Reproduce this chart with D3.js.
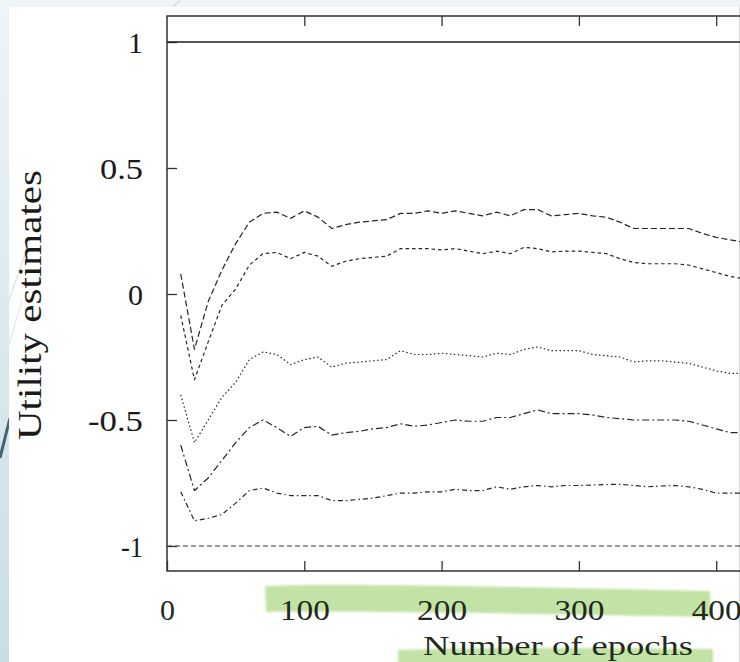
<!DOCTYPE html>
<html>
<head>
<meta charset="utf-8">
<script src="https://cdn.jsdelivr.net/npm/d3@7/dist/d3.min.js"></script>
<style>
  html, body { margin: 0; padding: 0; background: #eef4f7; }
  svg { display: block; }
</style>
</head>
<body>
<svg id="chart" width="740" height="662"></svg>
<script>
// ---------------- data ----------------
const epochs = [10,20,30,40,50,60,70,80,90,100,110,120,130,140,150,160,170,180,190,200,
                210,220,230,240,250,260,270,280,290,300,310,320,330,340,350,360,370,380,390,400,410,420];

const seriesA = [0.08,-0.22,-0.03,0.095,0.20,0.285,0.32,0.325,0.30,0.33,0.305,0.26,0.275,0.285,0.29,0.295,0.32,0.32,0.33,0.32,
                 0.33,0.32,0.31,0.325,0.31,0.335,0.335,0.31,0.315,0.32,0.31,0.305,0.285,0.26,0.26,0.26,0.26,0.26,0.24,0.225,0.215,0.205];
const seriesB = [-0.085,-0.34,-0.19,-0.045,0.02,0.115,0.16,0.165,0.14,0.165,0.15,0.11,0.13,0.14,0.145,0.15,0.18,0.18,0.18,0.175,
                 0.18,0.17,0.16,0.17,0.16,0.185,0.18,0.167,0.17,0.17,0.165,0.16,0.14,0.125,0.12,0.12,0.12,0.115,0.10,0.085,0.07,0.06];
const seriesC = [-0.40,-0.59,-0.50,-0.41,-0.35,-0.26,-0.23,-0.24,-0.28,-0.26,-0.25,-0.29,-0.275,-0.27,-0.265,-0.26,-0.225,-0.24,-0.24,-0.235,
                 -0.24,-0.245,-0.25,-0.235,-0.24,-0.22,-0.21,-0.225,-0.225,-0.225,-0.24,-0.245,-0.25,-0.27,-0.265,-0.265,-0.27,-0.275,-0.29,-0.305,-0.315,-0.315];
const seriesD = [-0.60,-0.78,-0.73,-0.66,-0.59,-0.53,-0.50,-0.53,-0.565,-0.53,-0.525,-0.56,-0.55,-0.545,-0.535,-0.53,-0.515,-0.525,-0.52,-0.51,
                 -0.50,-0.505,-0.505,-0.49,-0.49,-0.475,-0.46,-0.475,-0.475,-0.475,-0.48,-0.49,-0.495,-0.50,-0.50,-0.50,-0.50,-0.505,-0.52,-0.535,-0.55,-0.55];
const seriesE = [-0.785,-0.90,-0.89,-0.875,-0.83,-0.78,-0.77,-0.79,-0.80,-0.80,-0.80,-0.82,-0.82,-0.815,-0.81,-0.80,-0.79,-0.79,-0.785,-0.785,
                 -0.775,-0.78,-0.78,-0.765,-0.775,-0.765,-0.76,-0.765,-0.76,-0.76,-0.758,-0.756,-0.755,-0.76,-0.765,-0.762,-0.76,-0.765,-0.775,-0.79,-0.79,-0.79];
const constTop = 1;
const constBottom = -1;

const xTicks = [0,100,200,300,400];
const yTicks = [-1,-0.5,0,0.5,1];
const xLabel = "Number of epochs";
const yLabel = "Utility estimates";

// ---------------- drawing ----------------
const svg = d3.select("#chart");
const W = 740, H = 662;
const plotL = 167, plotT = 16, plotB = 571;

// slide background
const defs = svg.append("defs");
const g1 = defs.append("linearGradient").attr("id","strip").attr("x1",0).attr("y1",0).attr("x2",0).attr("y2",1);
g1.append("stop").attr("offset","0%").attr("stop-color","#eef4f7");
g1.append("stop").attr("offset","100%").attr("stop-color","#c8dee5");
defs.append("filter").attr("id","soft").append("feGaussianBlur").attr("stdDeviation",1.2);
svg.append("rect").attr("width",W).attr("height",H).attr("fill","#eff4f7");
svg.append("rect").attr("x",0).attr("y",0).attr("width",9).attr("height",H).attr("fill","url(#strip)");
svg.append("line").attr("x1",0).attr("y1",458).attr("x2",10).attr("y2",418).attr("stroke","#3f6274").attr("stroke-width",3);
svg.append("line").attr("x1",173).attr("y1",7).attr("x2",180).attr("y2",0).attr("stroke","#d5dfe5").attr("stroke-width",1.5);
// white card
svg.append("rect").attr("x",9).attr("y",7).attr("width",730).attr("height",H-7).attr("fill","#ffffff");
svg.append("line").attr("x1",739.5).attr("y1",7).attr("x2",739.5).attr("y2",H).attr("stroke","#d6d9db");
// faint decorative diagonals over the card
svg.append("line").attr("x1",9).attr("y1",300).attr("x2",30).attr("y2",240).attr("stroke","#dfe7eb").attr("stroke-width",1.5);
svg.append("line").attr("x1",9).attr("y1",345).attr("x2",22).attr("y2",300).attr("stroke","#e4ebee").attr("stroke-width",1.2);

// highlighter strokes
svg.append("path")
  .attr("d","M265,586 C360,583 560,588 710,591 L711,617 C560,614 380,611 266,612 Z")
  .attr("fill","#c3e3a6").attr("filter","url(#soft)");
svg.append("path")
  .attr("d","M398,650 C480,647 620,648 713,649 L713,664 L398,664 Z")
  .attr("fill","#c3e3a6").attr("filter","url(#soft)");

// scales
const x = d3.scaleLinear().domain([0,500]).range([plotL, plotL + 686.5]);
const y = d3.scaleLinear().domain([-1,1]).range([546,42]);

defs.append("clipPath").attr("id","plotclip")
  .append("rect").attr("x",plotL).attr("y",plotT).attr("width",W-plotL).attr("height",plotB-plotT);

const font = "'Liberation Serif','Times New Roman',Times,serif";

// axes
const yAxis = d3.axisLeft(y).tickValues(yTicks).tickSize(-10).tickSizeOuter(0).tickPadding(24)
  .tickFormat(d => String(d));
const gy = svg.append("g").attr("transform",`translate(${plotL},0)`).call(yAxis);
gy.select(".domain").remove();
gy.selectAll(".tick line").attr("stroke","#333").attr("stroke-width",1.3);
const yLen = {"1":null,"0.5":43,"0":null,"-0.5":55,"-1":22};
gy.selectAll(".tick text")
  .attr("font-family",font).attr("font-size",30).attr("fill","#1a1a1a").attr("dy","0.36em")
  .each(function(d){ const L = yLen[String(d)]; if (L) d3.select(this).attr("textLength",L).attr("lengthAdjust","spacingAndGlyphs"); });

const xAxis = d3.axisBottom(x).tickValues(xTicks).tickSize(-10).tickSizeOuter(0).tickPadding(28)
  .tickFormat(d => String(d));
const gx = svg.append("g").attr("transform",`translate(0,${plotB})`).call(xAxis);
gx.select(".domain").remove();
gx.selectAll(".tick line").attr("stroke","#333").attr("stroke-width",1.3);
gx.selectAll(".tick text")
  .attr("font-family",font).attr("font-size",30).attr("fill","#1f2a1c")
  .each(function(d){ if (d >= 100) d3.select(this).attr("textLength",50).attr("lengthAdjust","spacingAndGlyphs"); });

const xTop = d3.axisTop(x).tickValues(xTicks.filter(d => d > 0)).tickSize(-10).tickSizeOuter(0).tickFormat("");
const gt = svg.append("g").attr("transform",`translate(0,${plotT})`).call(xTop);
gt.select(".domain").remove();
gt.selectAll(".tick line").attr("stroke","#333").attr("stroke-width",1.3);

// frame
svg.append("path")
  .attr("d",`M${W+2},${plotT}H${plotL}V${plotB}H${W+2}`)
  .attr("fill","none").attr("stroke","#333").attr("stroke-width",1.5);

// lines
const plot = svg.append("g").attr("clip-path","url(#plotclip)");
const line = d3.line().x(d => x(d[0])).y(d => y(d[1]));

// constant reference lines
plot.append("path").datum([[0,constTop],[500,constTop]]).attr("d",line)
  .attr("fill","none").attr("stroke","#222").attr("stroke-width",1.3);
plot.append("path").datum([[0,constBottom],[500,constBottom]]).attr("d",line)
  .attr("fill","none").attr("stroke","#333").attr("stroke-width",1.2).attr("stroke-dasharray","5,3");

const series = [
  {vals: seriesA, dash: "6,3"},
  {vals: seriesB, dash: "3.5,3"},
  {vals: seriesC, dash: "1.5,2.5"},
  {vals: seriesD, dash: "7,3,2,3"},
  {vals: seriesE, dash: "5,3,1.5,3"}
];
series.forEach(s => {
  plot.append("path").datum(epochs.map((e,i) => [e, s.vals[i]])).attr("d",line)
    .attr("fill","none").attr("stroke","#262626").attr("stroke-width",1.2)
    .attr("stroke-dasharray",s.dash).attr("stroke-linejoin","round");
});

// axis titles
svg.append("text").attr("x",558).attr("y",655).attr("text-anchor","middle")
  .attr("font-family",font).attr("font-size",27).attr("fill","#1f2a1c")
  .attr("textLength",270).attr("lengthAdjust","spacingAndGlyphs").text(xLabel);
svg.append("text").attr("transform","translate(41,305) rotate(-90)").attr("text-anchor","middle")
  .attr("font-family",font).attr("font-size",34).attr("fill","#1a1a1a")
  .attr("textLength",270).attr("lengthAdjust","spacingAndGlyphs").text(yLabel);
</script>
</body>
</html>
